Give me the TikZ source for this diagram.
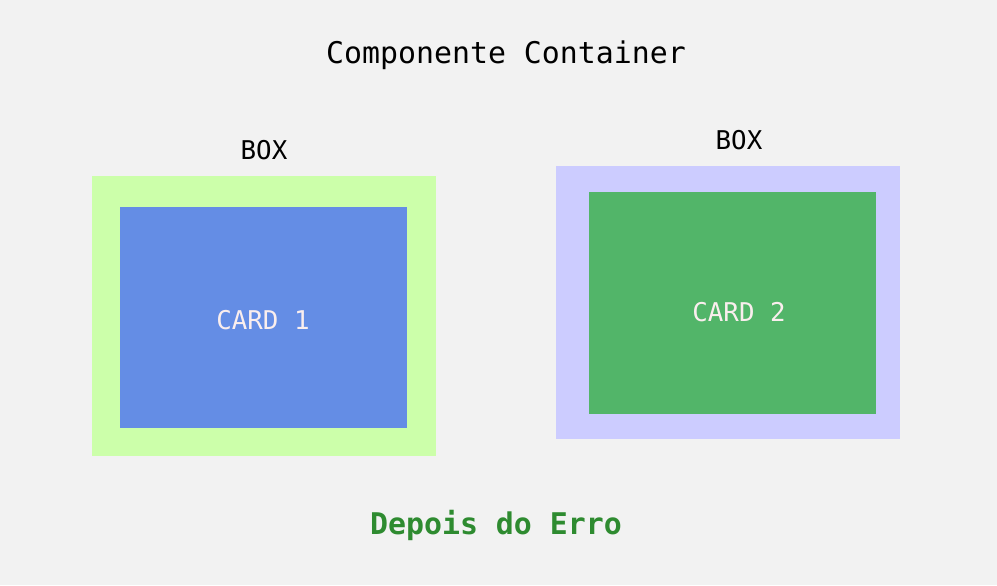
\documentclass[tikz,border=0pt]{standalone}
\usepackage{fontspec}
\setmonofont{DejaVu Sans Mono}
\usepackage{xcolor}
\definecolor{bggray}{HTML}{F2F2F2}
\definecolor{boxgreen}{HTML}{CCFFAA}
\definecolor{boxlilac}{HTML}{CCCCFF}
\definecolor{cardblue}{HTML}{648DE5}
\definecolor{cardgreen}{HTML}{52B569}
\definecolor{cardtext}{HTML}{FAEEEE}
\definecolor{errgreen}{HTML}{2E8B30}
\usetikzlibrary{positioning}

\tikzset{
    outerbox/.style={minimum width=6.88cm, inner sep=0pt, draw=none},
    cardbox/.style={minimum width=5.74cm, inner sep=0pt, draw=none},
    cardlabel/.style={text=cardtext, font=\ttfamily\fontsize{14.7}{16}\selectfont},
    boxlabel/.style={font=\ttfamily\fontsize{14.7}{16}\selectfont, text=black},
}

\begin{document}
\begin{tikzpicture}[x=0.02cm, y=-0.02cm]
    % background and page size
    \fill[bggray] (0,0) rectangle (997,585);
    \useasboundingbox (0,0) rectangle (997,585);
    % title
    \node[font=\ttfamily\fontsize{17}{19}\selectfont] (title) at (506,55) {Componente Container};
    % left box
    \node[outerbox, fill=boxgreen, minimum height=5.6cm] (box1) at (264,316) {};
    \node[cardbox, fill=cardblue, minimum height=4.42cm] (card1) at (263.5,317.5) {};
    \node[cardlabel] (card1txt) at (263,320) {CARD 1};
    \node[boxlabel] (lab1) at (264,150) {BOX};
    % right box
    \node[outerbox, fill=boxlilac, minimum height=5.46cm] (box2) at (728,302.5) {};
    \node[cardbox, fill=cardgreen, minimum height=4.44cm] (card2) at (732.5,303) {};
    \node[cardlabel] (card2txt) at (739,312) {CARD 2};
    \node[boxlabel] (lab2) at (739,140) {BOX};
    % caption
    \node[font=\ttfamily\bfseries\fontsize{17}{19}\selectfont, text=errgreen] (caption) at (496,525) {Depois do Erro};
\end{tikzpicture}
\end{document}
